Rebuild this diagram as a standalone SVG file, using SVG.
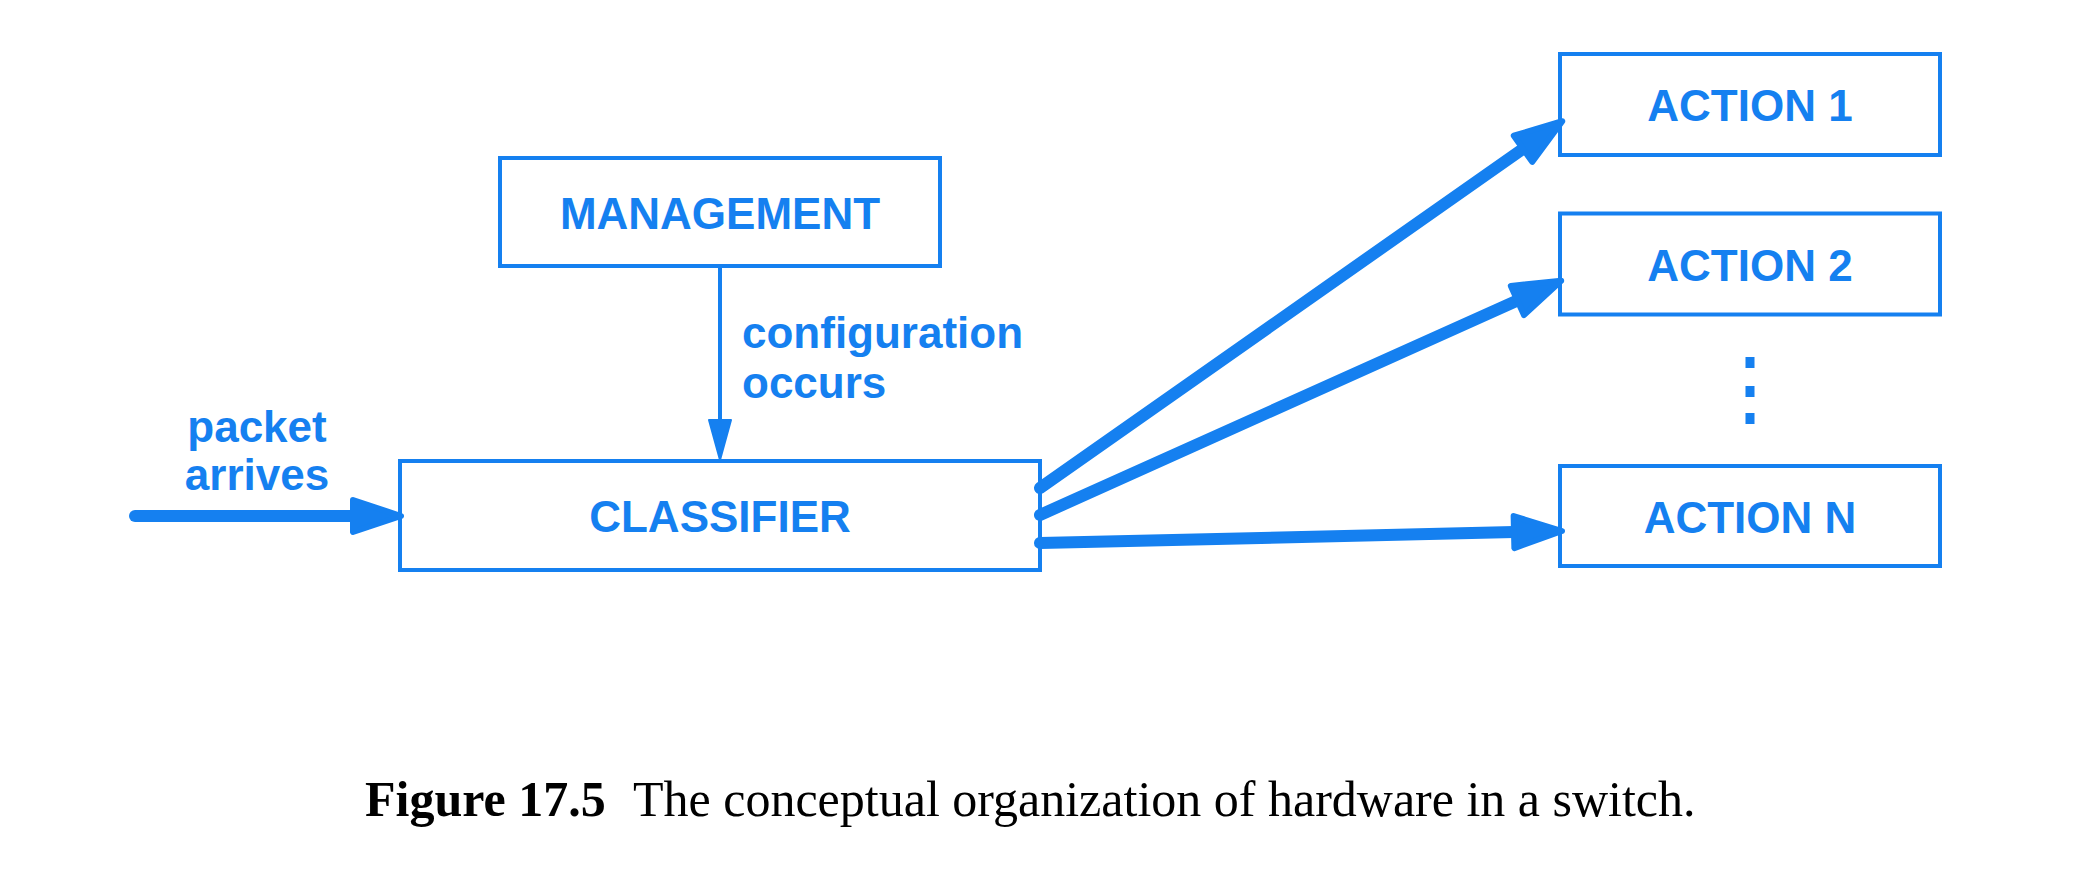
<svg xmlns="http://www.w3.org/2000/svg" width="2079" height="872" viewBox="0 0 2079 872">
  <style>
    .box { fill: none; stroke: #1580f0; stroke-width: 4; }
    .lbl { font-family: "Liberation Sans", Arial, sans-serif; font-weight: bold; font-size: 44px; fill: #1580f0; }
    .mid { text-anchor: middle; }
    .thick { stroke: #1580f0; stroke-width: 12; stroke-linecap: round; fill: none; }
    .thin { stroke: #1580f0; stroke-width: 4; fill: none; }
    .cap { font-family: "Liberation Serif", "Times New Roman", serif; font-size: 50px; fill: #000; }
  </style>
  <defs>
    <marker id="big" markerUnits="userSpaceOnUse" orient="auto" markerWidth="74" markerHeight="50" viewBox="-8 -25 74 50" refX="0" refY="0">
      <path d="M0,-16 L48,0 L0,16 z" fill="#1580f0" stroke="#1580f0" stroke-width="6" stroke-linejoin="round"/>
    </marker>
    <marker id="small" markerUnits="userSpaceOnUse" orient="auto" markerWidth="50" markerHeight="30" viewBox="-4 -15 50 30" refX="0" refY="0">
      <path d="M0,-11 L40,0 L0,11 z" fill="#1580f0" stroke="#1580f0" stroke-width="2" stroke-linejoin="round"/>
    </marker>
  </defs>
  <rect width="2079" height="872" fill="#fff"/>

  <g id="management">
    <rect class="box" x="500" y="158" width="440" height="108"/>
    <text class="lbl mid" x="720" y="229">MANAGEMENT</text>
  </g>
  <g id="classifier">
    <rect class="box" x="400" y="461" width="640" height="109"/>
    <text class="lbl mid" x="720" y="532">CLASSIFIER</text>
  </g>
  <g id="action1">
    <rect class="box" x="1560" y="54" width="380" height="101"/>
    <text class="lbl mid" x="1750" y="120.5">ACTION 1</text>
  </g>
  <g id="action2">
    <rect class="box" x="1560" y="213.5" width="380" height="101"/>
    <text class="lbl mid" x="1750" y="280.5">ACTION 2</text>
  </g>
  <g id="ellipsis">
    <rect x="1745.5" y="357" width="9" height="11" fill="#1580f0"/>
    <rect x="1745.5" y="386" width="9" height="11" fill="#1580f0"/>
    <rect x="1745.5" y="413" width="9" height="11" fill="#1580f0"/>
  </g>
  <g id="actionN">
    <rect class="box" x="1560" y="466" width="380" height="100"/>
    <text class="lbl mid" x="1750" y="532.5">ACTION N</text>
  </g>

  <g id="connectors">
    <line class="thin" x1="720" y1="266" x2="720" y2="420" marker-end="url(#small)"/>
    <line class="thick" x1="135" y1="516" x2="353" y2="516" marker-end="url(#big)"/>
    <line class="thick" x1="1040" y1="488" x2="1523" y2="148.8" marker-end="url(#big)"/>
    <line class="thick" x1="1040" y1="515" x2="1517.4" y2="300.5" marker-end="url(#big)"/>
    <line class="thick" x1="1040" y1="543" x2="1514" y2="532.1" marker-end="url(#big)"/>
    <text class="lbl" x="742" y="348">configuration</text>
    <text class="lbl" x="742" y="398">occurs</text>
    <text class="lbl mid" x="257" y="442">packet</text>
    <text class="lbl mid" x="257" y="490">arrives</text>
  </g>

  <g id="caption">
    <text class="cap" x="365" y="816" font-weight="bold">Figure 17.5</text>
    <text class="cap" x="633" y="816">The conceptual organization of hardware in a switch.</text>
  </g>
</svg>
